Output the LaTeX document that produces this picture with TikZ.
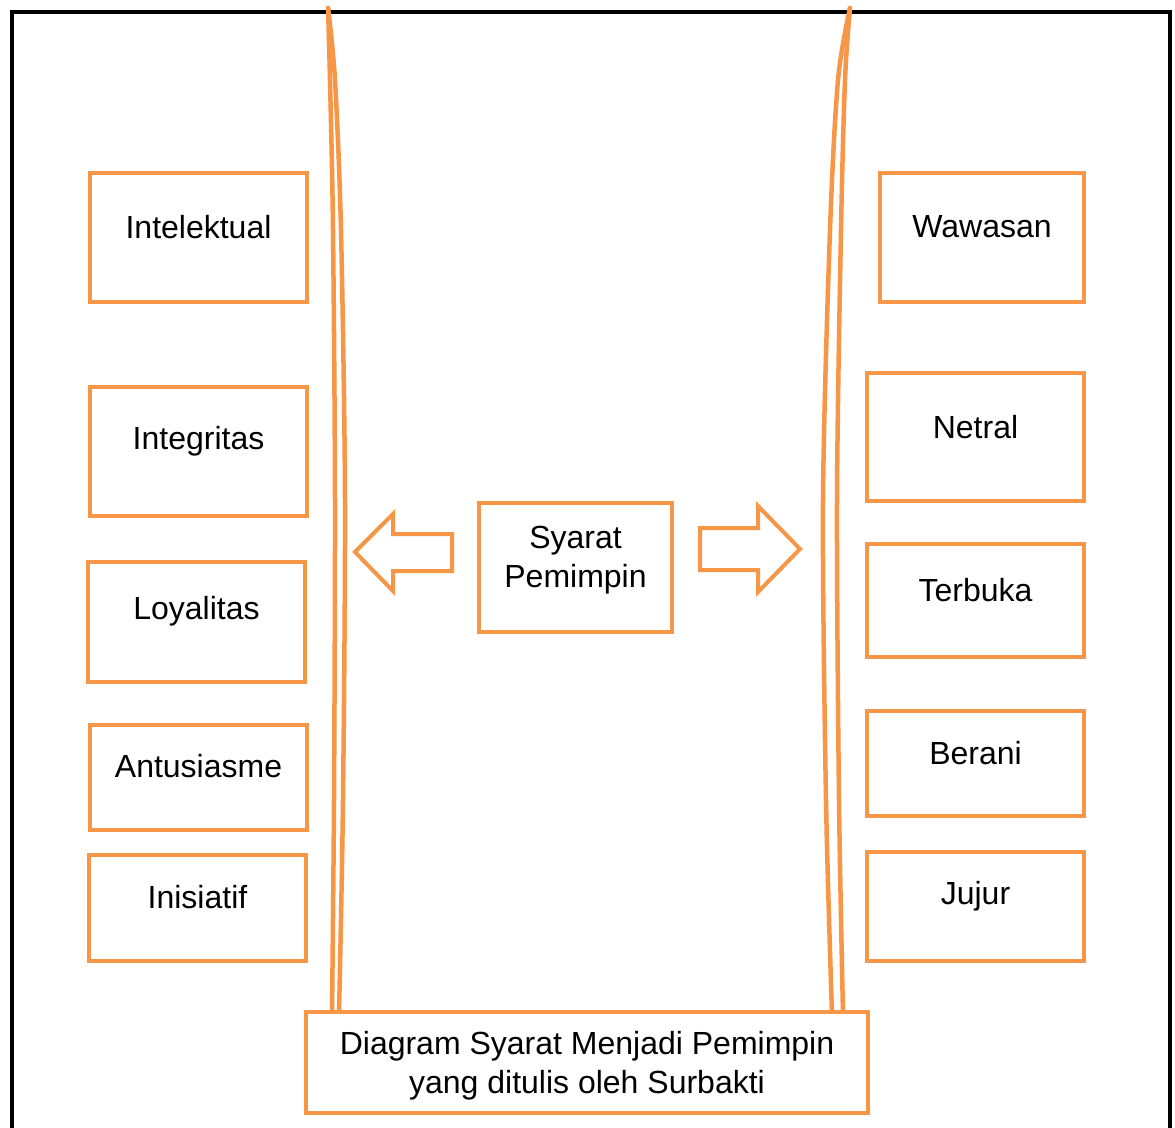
\documentclass[tikz,border=0pt]{standalone}
\usepackage{fontspec}
\setmainfont{Liberation Sans}
\definecolor{acc}{HTML}{F79646}
\begin{document}
\begin{tikzpicture}[x=1pt,y=-1pt,
  box/.style={draw=acc,line width=4pt,fill=white,inner sep=0pt},
  lbl/.style={font=\fontsize{32}{39}\selectfont,align=center,inner sep=0pt,text=black},
  curve/.style={draw=acc,line width=4.5pt,line cap=round,line join=round},
  blk/.style={draw=acc,line width=4pt,line join=miter,fill=white}]
\useasboundingbox (0,0) rectangle (1175,1127);
\fill[white] (0,0) rectangle (1175,1127);
% black frame
\draw[line width=4pt,line join=miter] (11.5,1140) -- (11.5,12) -- (1170,12) -- (1170,1140);
% curved bands
\draw[curve] plot[smooth] coordinates {(328,8) (330,80) (333,230) (335,500) (334,800) (332,1014)};
\draw[curve] plot[smooth] coordinates {(328,8) (335,80) (341,230) (345,500) (343,800) (339,1014)};
\draw[curve] plot[smooth] coordinates {(850,8) (838,80) (830,230) (823,500) (826,800) (832,1014)};
\draw[curve] plot[smooth] coordinates {(850,8) (845,80) (841,230) (837,500) (839,800) (843,1014)};
% left column
\node[box,minimum width=217,minimum height=129,label={[lbl,anchor=base,yshift=10.5pt]center:Intelektual}] (intel) at (198.5,237.5) {};
\node[box,minimum width=217,minimum height=129,label={[lbl,anchor=base,yshift=10.5pt]center:Integritas}] (integ) at (198.5,451.5) {};
\node[box,minimum width=217,minimum height=120,label={[lbl,anchor=base,yshift=11pt]center:Loyalitas}] (loyal) at (196.5,622) {};
\node[box,minimum width=217,minimum height=105,label={[lbl,anchor=base,yshift=11pt]center:Antusiasme}] (antus) at (198.5,777.5) {};
\node[box,minimum width=217,minimum height=106,label={[lbl,anchor=base,yshift=11pt]center:Inisiatif}] (inis) at (197.5,908) {};
% right column
\node[box,minimum width=204,minimum height=129,label={[lbl,anchor=base,yshift=10.5pt]center:Wawasan}] (wawas) at (982,237.5) {};
\node[box,minimum width=217,minimum height=128,label={[lbl,anchor=base,yshift=10pt]center:Netral}] (netral) at (975.5,437) {};
\node[box,minimum width=217,minimum height=113,label={[lbl,anchor=base,yshift=10.5pt]center:Terbuka}] (terbuka) at (975.5,600.5) {};
\node[box,minimum width=217,minimum height=105,label={[lbl,anchor=base,yshift=10.5pt]center:Berani}] (berani) at (975.5,763.5) {};
\node[box,minimum width=217,minimum height=109,label={[lbl,anchor=base,yshift=10.5pt]center:Jujur}] (jujur) at (975.5,906.5) {};
% centre
\node[box,minimum width=193,minimum height=129,label={[lbl,yshift=7.5pt]center:Syarat\\Pemimpin}] (syarat) at (575.5,567.5) {};
% arrows
\draw[blk] (355,552) -- (393,514) -- (393,534) -- (452,534) -- (452,571) -- (393,571) -- (393,591) -- cycle;
\draw[blk] (700,528) -- (758,528) -- (758,506) -- (800,549) -- (758,592) -- (758,570) -- (700,570) -- cycle;
% bottom caption box
\node[box,minimum width=562,minimum height=101,label={[lbl,yshift=-3.5pt]center:Diagram Syarat Menjadi Pemimpin\\yang ditulis oleh Surbakti}] (caption) at (587,1062.5) {};
\end{tikzpicture}
\end{document}
